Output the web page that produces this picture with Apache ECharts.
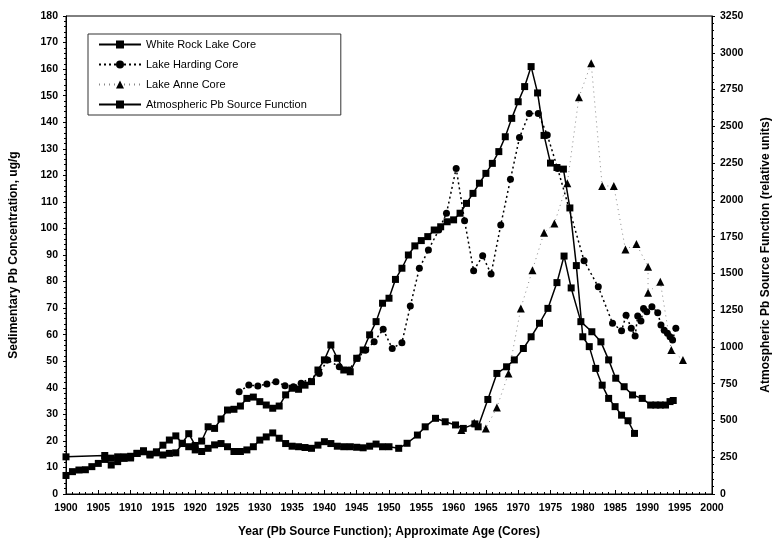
<!DOCTYPE html>
<html>
<head>
<meta charset="utf-8">
<script src="https://cdn.jsdelivr.net/npm/echarts@6/dist/echarts.min.js"></script>
<style>
  html, body { margin: 0; padding: 0; background: #fff; }
  #main { width: 780px; height: 544px; }
</style>
</head>
<body>
<div id="main"></div>
<script>
var chart = echarts.init(document.getElementById('main'));

// White Rock Lake core (ug/g, left axis)
var whiteRockYears = [1900, 1906, 1907, 1908, 1909, 1910, 1911, 1912, 1913, 1914, 1915, 1916, 1917, 1918, 1919, 1920,
  1921, 1922, 1923, 1924, 1925, 1926, 1927, 1928, 1929, 1930, 1931, 1932, 1933, 1934, 1935, 1936, 1937, 1938, 1939,
  1940, 1941, 1942, 1943, 1944, 1945, 1946, 1947, 1948, 1949, 1950, 1951.5, 1952.8, 1954.4, 1955.6, 1957.2, 1958.7,
  1960.3, 1961.5, 1963.3, 1963.8, 1965.3, 1966.7, 1968.2, 1969.4, 1970.8, 1972, 1973.3, 1974.6, 1976, 1977.1, 1978.2,
  1979.7, 1981.4, 1982.8, 1984, 1985.1, 1986.4, 1987.7, 1989.2, 1990.5, 1991.3, 1992, 1992.8, 1993.5, 1994];
var whiteRockValues = [14, 14.5, 13.5, 14, 14, 14.2, 15.3, 16.3, 15, 15.5, 14.7, 15.3, 15.5, 19, 17.8, 16.6,
  16, 17.2, 18.5, 19, 17.8, 16, 16, 16.6, 17.8, 20.3, 21.5, 23, 21, 19, 18, 17.8, 17.5, 17.2, 18.4,
  19.7, 19, 18, 17.8, 17.8, 17.6, 17.4, 18, 18.8, 17.8, 17.8, 17.2, 19.1, 22.2, 25.3, 28.5, 27.2,
  26, 24.7, 26.4, 25.3, 35.6, 45.4, 47.9, 50.5, 54.8, 59.2, 64.3, 69.9, 79.6, 89.6, 77.6,
  64.9, 61.1, 57.3, 50.5, 43.6, 40.4, 37.3, 36, 33.5, 33.5, 33.5, 33.5, 34.8, 35.2];

// Lake Harding core (ug/g, left axis)
var hardingYears = [1926.8, 1928.3, 1929.7, 1931.1, 1932.5, 1933.9, 1935.2, 1936.4, 1939.2, 1940.5, 1942.3, 1943.8,
  1945.1, 1946.4, 1947.7, 1949.1, 1950.5, 1952, 1953.3, 1954.7, 1956.1, 1957.7, 1958.9, 1960.4, 1961.7, 1963.1,
  1964.5, 1965.8, 1967.3, 1968.8, 1970.2, 1971.7, 1973.1, 1974.5, 1976.1, 1980.2, 1982.4, 1984.6, 1986, 1986.7,
  1987.5, 1988.1, 1988.5, 1989, 1989.4, 1989.9, 1990.7, 1991.6, 1992.1, 1992.6, 1993.1, 1993.5, 1993.9, 1994.4];
var hardingValues = [38.5, 41, 40.7, 41.4, 42.3, 40.8, 40.4, 41.7, 45.4, 50.5, 47.9, 46.7,
  51.1, 54.2, 57.3, 62, 54.8, 57, 70.8, 85, 91.9, 99.4, 105.7, 122.6, 102.9, 84.1,
  89.7, 82.8, 101.3, 118.5, 134.2, 143.3, 143.3, 135.2, 122.6, 87.8, 78, 64.3, 61.5, 67.3,
  62.4, 59.5, 67, 65.1, 69.9, 68.6, 70.5, 68.3, 63.6, 61.7, 60.5, 59.2, 58, 62.4];

// Lake Anne core (ug/g, left axis)
var anneYears = [1961.2, 1963.2, 1965, 1966.7, 1968.5, 1970.4, 1972.2, 1974, 1975.6, 1977.6, 1979.4, 1981.3,
  1983, 1984.8, 1986.6, 1988.3, 1990.1, 1990.1, 1992, 1993.7, 1995.5];
var anneValues = [24.1, 26.8, 24.7, 32.6, 45.4, 69.9, 84.3, 98.4, 101.9, 117, 149.4, 162.2,
  116, 116, 92.1, 94.1, 85.6, 75.8, 79.9, 54.2, 50.5];

// Atmospheric Pb source function (relative units, right axis), one value per year from 1900
var sourceStartYear = 1900;
var sourceValues = [126, 152, 163, 165, 186, 208, 235, 197, 220, 242,
  245, 276, 287, 265, 287, 332, 367, 395, 345, 410,
  330, 360, 457, 446, 510, 571, 576, 598, 650, 659,
  628, 605, 583, 598, 674, 719, 712, 740, 764, 843,
  912, 1013, 923, 843, 831, 923, 979, 1082, 1172, 1297,
  1331, 1459, 1535, 1625, 1687, 1723, 1750, 1795, 1817, 1851,
  1864, 1909, 1976, 2044, 2113, 2180, 2248, 2328, 2429, 2554,
  2667, 2770, 2906, 2727, 2438, 2250, 2220, 2209, 1945, 1553,
  1069, 1002, 854, 740, 650, 594, 536, 498, 412];

function pairs(xs, ys) {
  return xs.map(function (x, i) { return [x, ys[i]]; });
}
var sourceData = sourceValues.map(function (v, i) { return [sourceStartYear + i, v]; });

var font = 'Liberation Sans, Arial, sans-serif';
var plain = function (v) { return String(v); };
var tickLabel = { color: '#000', fontFamily: font, fontWeight: 'bold', fontSize: 10.5, formatter: plain };
var axisName = { color: '#000', fontFamily: font, fontWeight: 'bold', fontSize: 12 };

var option = {
  animation: false,
  backgroundColor: '#fff',
  grid: { left: 63, right: 65, top: 16, bottom: 50, show: true, borderColor: '#000', borderWidth: 1 },
  legend: {
    orient: 'vertical',
    left: 88, top: 34,
    itemWidth: 42, itemHeight: 10, itemGap: 9,
    padding: [5, 34, 5, 10],
    borderColor: '#333', borderWidth: 1,
    textStyle: { color: '#000', fontFamily: font, fontSize: 11 },
    data: ['White Rock Lake Core', 'Lake Harding Core', 'Lake Anne Core', 'Atmospheric Pb Source Function']
  },
  xAxis: {
    type: 'value', min: 1900, max: 2000, interval: 5,
    name: 'Year (Pb Source Function); Approximate Age (Cores)',
    nameLocation: 'middle', nameGap: 32,
    nameTextStyle: axisName,
    axisLine: { lineStyle: { color: '#000', width: 1 } },
    axisTick: { inside: true, length: 4, lineStyle: { color: '#000' } },
    minorTick: { show: true, splitNumber: 5, length: 2, lineStyle: { color: '#000' } },
    splitLine: { show: false },
    axisLabel: Object.assign({ margin: 9 }, tickLabel)
  },
  yAxis: [{
    type: 'value', min: 0, max: 180, interval: 10,
    name: 'Sedimentary Pb Concentration, ug/g',
    nameLocation: 'middle', nameGap: 46, nameRotate: 90,
    nameTextStyle: axisName,
    axisLine: { show: true, lineStyle: { color: '#000' } },
    axisTick: { show: true, length: 3, lineStyle: { color: '#000' } },
    minorTick: { show: true, splitNumber: 5, length: 2, lineStyle: { color: '#000' } },
    splitLine: { show: false },
    axisLabel: Object.assign({ margin: 8 }, tickLabel)
  }, {
    type: 'value', min: 0, max: 3250, interval: 250,
    name: 'Atmospheric Pb Source Function (relative units)',
    nameLocation: 'middle', nameGap: 48, nameRotate: 90,
    nameTextStyle: axisName,
    axisLine: { show: true, lineStyle: { color: '#000' } },
    axisTick: { show: true, length: 3, lineStyle: { color: '#000' } },
    minorTick: { show: true, splitNumber: 5, length: 2, lineStyle: { color: '#000' } },
    splitLine: { show: false },
    axisLabel: Object.assign({ margin: 8 }, tickLabel)
  }],
  series: [{
    name: 'White Rock Lake Core', type: 'line', yAxisIndex: 0,
    data: pairs(whiteRockYears, whiteRockValues),
    symbol: 'rect', symbolSize: 7,
    itemStyle: { color: '#000' },
    lineStyle: { color: '#000', width: 1.5 }
  }, {
    name: 'Lake Harding Core', type: 'line', yAxisIndex: 0,
    data: pairs(hardingYears, hardingValues),
    symbol: 'circle', symbolSize: 7,
    itemStyle: { color: '#000' },
    lineStyle: { color: '#000', width: 1.5, type: [2, 3] }
  }, {
    name: 'Lake Anne Core', type: 'line', yAxisIndex: 0,
    data: pairs(anneYears, anneValues),
    symbol: 'triangle', symbolSize: 8,
    itemStyle: { color: '#000' },
    lineStyle: { color: '#888', width: 1, type: [1, 4] }
  }, {
    name: 'Atmospheric Pb Source Function', type: 'line', yAxisIndex: 1,
    data: sourceData,
    symbol: 'rect', symbolSize: 7,
    itemStyle: { color: '#000' },
    lineStyle: { color: '#000', width: 1.5 }
  }]
};
chart.setOption(option);
</script>
</body>
</html>
